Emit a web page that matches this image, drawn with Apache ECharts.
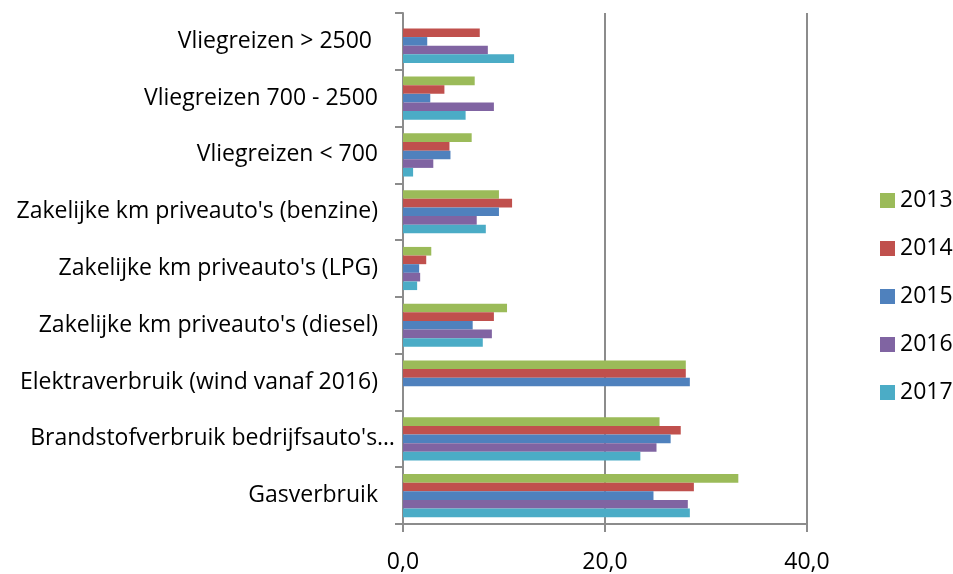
<!DOCTYPE html>
<html>
<head>
<meta charset="utf-8">
<script src="https://cdn.jsdelivr.net/npm/echarts@6/dist/echarts.min.js"></script>
<style>
html, body { margin: 0; padding: 0; background: #fff; }
#chart { width: 953px; height: 574px; }
</style>
</head>
<body>
<div id="chart"></div>
<script>
// categorieen van boven naar beneden
var categories = [
	'Vliegreizen > 2500 ',
	'Vliegreizen 700 - 2500',
	'Vliegreizen < 700',
	"Zakelijke km priveauto's (benzine)",
	"Zakelijke km priveauto's (LPG)",
	"Zakelijke km priveauto's (diesel)",
	'Elektraverbruik (wind vanaf 2016)',
	"Brandstofverbruik bedrijfsauto's\u2026",
	'Gasverbruik'
];
var years = ['2013', '2014', '2015', '2016', '2017'];

var v2013 = [null, 7.1, 6.8, 9.5, 2.8, 10.3, 28.0, 25.4, 33.2];
var v2014 = [7.6, 4.1, 4.6, 10.8, 2.3, 9.0, 28.0, 27.5, 28.8];
var v2015 = [2.4, 2.7, 4.7, 9.5, 1.6, 6.9, 28.4, 26.5, 24.8];
var v2016 = [8.4, 9.0, 3.0, 7.3, 1.7, 8.8, null, 25.1, 28.2];
var v2017 = [11.0, 6.2, 1.0, 8.2, 1.4, 7.9, null, 23.5, 28.4];

var xTicks = [0, 20, 40];

var colors = ['#9BBB59', '#C0504D', '#4F81BD', '#8064A2', '#4BACC6'];
var values = [v2013, v2014, v2015, v2016, v2017];
var font = 'Open Sans';
var fs = 23;

var myChart = echarts.init(document.getElementById('chart'));

var series = [];
for (var i = 0; i < years.length; i++) {
	series.push({
		name : years[i],
		type : 'bar',
		data : values[i],
		barGap : '0%',
		barCategoryGap : '24%',
		itemStyle : { color : colors[i] },
		animation : false
	});
}

option = {
	color : colors,
	textStyle : { fontFamily : font },
	grid : { left : 403, right : 146, top : 13, bottom : 49 },
	legend : {
		orient : 'vertical',
		left : 875,
		top : 184,
		itemWidth : 15,
		itemHeight : 15,
		itemGap : 25,
		itemStyle : { borderWidth : 0 },
		icon : 'rect',
		data : years,
		textStyle : { fontSize : fs, color : '#000', fontFamily : font }
	},
	xAxis : {
		type : 'value',
		min : xTicks[0],
		max : xTicks[xTicks.length - 1],
		interval : 20,
		axisLine : { show : true, lineStyle : { color : '#8c8c8c', width : 2 } },
		axisTick : { show : true, length : 8, lineStyle : { color : '#8c8c8c', width : 2 } },
		splitLine : { show : true, lineStyle : { color : '#8c8c8c', width : 2 } },
		axisLabel : {
			fontSize : fs,
			color : '#000',
			margin : 27,
			formatter : function (v) { return v.toFixed(1).replace('.', ','); }
		}
	},
	yAxis : {
		type : 'category',
		inverse : true,
		data : categories,
		axisLine : { show : true, lineStyle : { color : '#8c8c8c', width : 2 } },
		axisTick : { show : true, length : 8, lineStyle : { color : '#8c8c8c', width : 2 } },
		axisLabel : {
			fontSize : fs,
			color : '#000',
			margin : 8,
			formatter : function (v, idx) {
				return idx === 7 ? '{b|' + v + '}' : '{a|' + v + '}';
			},
			rich : {
				a : { fontSize : fs, color : '#000', fontFamily : font, padding : [0, 17, 0, 0] },
				b : { fontSize : fs, color : '#000', fontFamily : font }
			}
		}
	},
	series : series
};
myChart.setOption(option);
</script>
</body>
</html>
